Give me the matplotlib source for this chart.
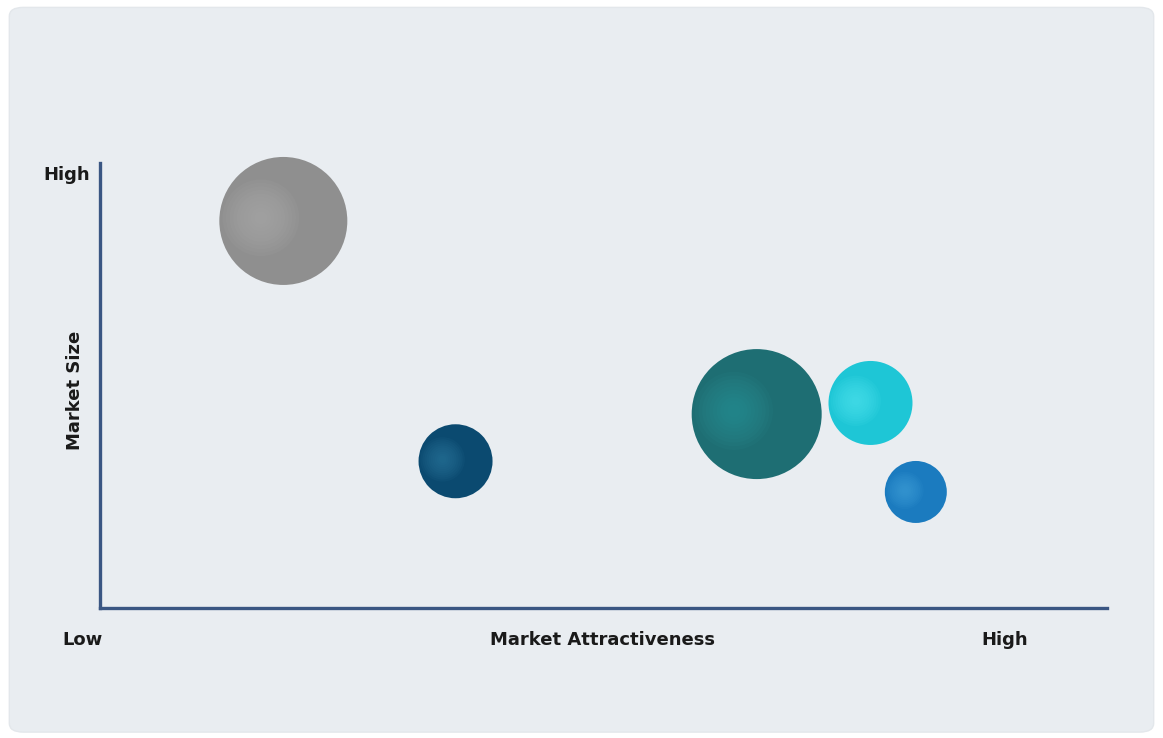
import numpy as np
import matplotlib.pyplot as plt
from matplotlib.patches import FancyBboxPatch

# bubble data (relative position on 0-100 scales, relative bubble size)
names = ['Segment A', 'Segment B', 'Segment C', 'Segment D', 'Segment E']
attractiveness = [18.2, 35.3, 65.2, 76.5, 81.0]
market_size = [87.0, 33.0, 43.6, 46.1, 26.1]
bubble_size = [64, 37, 65, 42, 31]
colors = ['#8f8f8f', '#0b4a70', '#1e6e73', '#1ec6d6', '#1b7bbf']
highlights = ['#adadad', '#2c789c', '#2a9498', '#50e6f0', '#40a0da']

fig = plt.figure(figsize=(11.63, 7.38), dpi=100)
fig.patch.set_facecolor('white')

# rounded background panel
panel = FancyBboxPatch((0.008, 0.008), 0.984, 0.982,
                       boxstyle='round,pad=0,rounding_size=0.012',
                       transform=fig.transFigure, facecolor='#e9edf1',
                       edgecolor='#e3e7eb', linewidth=1, zorder=-10)
fig.patches.append(panel)

ax = fig.add_axes([0.086, 0.176, 0.866, 0.603])
ax.set_facecolor('none')
ax.set_xlim(0, 100)
ax.set_ylim(0, 100)

# scatter size in pt^2 from bubble size (radius in px at 100 dpi)
r = np.array(bubble_size, dtype=float)
s = (r * 2 * 0.72) ** 2
ax.scatter(attractiveness, market_size, s=s, c=colors, edgecolors='none',
           zorder=3, clip_on=False)

# soft highlight, shifted left inside each bubble
hx = np.array(attractiveness) - 0.35 * r / 1007 * 100
hy = np.array(market_size) + 0.05 * r / 445 * 100
for k, frac in enumerate(np.linspace(0.6, 0.1, 10)):
    ax.scatter(hx, hy, s=s * frac ** 2, c=highlights, alpha=0.1,
               edgecolors='none', zorder=4 + k, clip_on=False)

for side in ['top', 'right']:
    ax.spines[side].set_visible(False)
for side in ['left', 'bottom']:
    ax.spines[side].set_color('#3a5683')
    ax.spines[side].set_linewidth(2.4)
ax.set_xticks([])
ax.set_yticks([])

font = dict(fontsize=13, fontweight='bold', color='#1a1a1a')
fig.text(67 / 1163, 1 - 175 / 738, 'High', ha='center', va='center', **font)
fig.text(82 / 1163, 1 - 640 / 738, 'Low', ha='center', va='center', **font)
fig.text(602 / 1163, 1 - 640 / 738, 'Market Attractiveness', ha='center', va='center', **font)
fig.text(1005 / 1163, 1 - 640 / 738, 'High', ha='center', va='center', **font)
fig.text(75 / 1163, 1 - 390 / 738, 'Market Size', ha='center', va='center', rotation=90, **font)

fig.savefig('out.png', dpi=100, facecolor=fig.get_facecolor())
